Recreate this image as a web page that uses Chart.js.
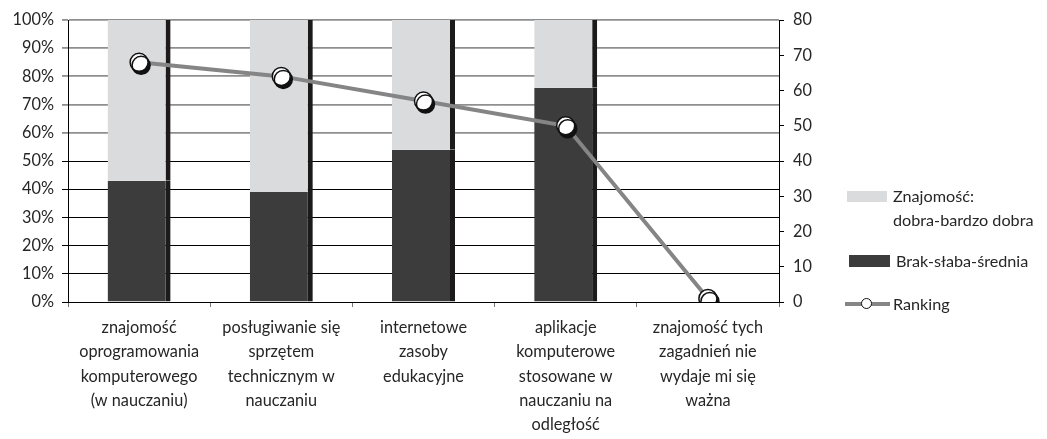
<!DOCTYPE html>
<html lang="pl">
<head>
<meta charset="UTF-8">
<title>Ranking znajomości zagadnień</title>
<script src="https://cdn.jsdelivr.net/npm/chart.js"></script>
<style>
body { margin: 0; background: #fff; font-family: Lato, "Open Sans", sans-serif; color: #262626; }
#wrap { position: relative; width: 1047px; height: 439px; }
.lg { position: absolute; font-size: 16.2px; line-height: 24px; white-space: nowrap; }
.sw { position: absolute; }
</style>
</head>
<body>
<div id="wrap">
  <canvas id="rankChart"></canvas>
  <div class="sw" style="left:847px; top:191px; width:40px; height:11px; background:#dadbdd;"></div>
  <div class="lg" style="left:893px; top:184px;">Znajomość:<br>dobra-bardzo dobra</div>
  <div class="sw" style="left:849px; top:255px; width:41px; height:12px; background:#3c3c3c;"></div>
  <div class="lg" style="left:896px; top:249px;">Brak-słaba-średnia</div>
  <div class="sw" style="left:845px; top:302px; width:45px; height:4px; background:#858585;"></div>
  <div class="sw" style="left:861px; top:298px; width:9px; height:9px; border:1.5px solid #111; border-radius:50%; background:#fff;"></div>
  <div class="lg" style="left:893px; top:292px;">Ranking</div>
</div>

<script>
const categories = [
  ['znajomość', 'oprogramowania', 'komputerowego', '(w nauczaniu)'],
  ['posługiwanie się', 'sprzętem', 'technicznym w', 'nauczaniu'],
  ['internetowe', 'zasoby', 'edukacyjne'],
  ['aplikacje', 'komputerowe', 'stosowane w', 'nauczaniu na', 'odległość'],
  ['znajomość tych', 'zagadnień nie', 'wydaje mi się', 'ważna']
];
const weakValues = [43, 39, 54, 76, null];   // Brak-słaba-średnia (%)
const goodValues = [57, 61, 46, 24, null];   // Znajomość: dobra-bardzo dobra (%)
const rankingValues = [68, 64, 57, 50, 1];
const percentTicks = [0, 10, 20, 30, 40, 50, 60, 70, 80, 90, 100];

const FONT = { family: 'Lato, "Open Sans", sans-serif', size: 16.3 };

// shadow under the ranking markers
const markerShadow = {
  id: 'markerShadow',
  beforeDatasetDraw(chart, args) {
    if (args.index !== 3) return;
    const ctx = chart.ctx;
    ctx.save();
    ctx.shadowColor = '#111';
    ctx.shadowOffsetX = 2;
    ctx.shadowOffsetY = 3;
    ctx.shadowBlur = 0;
  },
  afterDatasetDraw(chart, args) {
    if (args.index !== 3) return;
    chart.ctx.restore();
  }
};

const barBorder = { top: 0, right: 5, bottom: 0, left: 0 };

new Chart(document.getElementById('rankChart'), {
  type: 'bar',
  data: {
    labels: categories,
    datasets: [
      {
        label: 'Brak-słaba-średnia',
        data: weakValues,
        backgroundColor: '#3c3c3c',
        borderColor: '#1c1a1a',
        borderWidth: barBorder,
        borderSkipped: false,
        yAxisID: 'y',
        order: 2
      },
      {
        label: 'Znajomość: dobra-bardzo dobra',
        data: goodValues,
        backgroundColor: '#dadbdd',
        borderColor: '#1c1a1a',
        borderWidth: barBorder,
        borderSkipped: false,
        yAxisID: 'y',
        order: 2
      },
      {
        type: 'line',
        label: 'Ranking',
        data: rankingValues,
        yAxisID: 'y1',
        borderColor: '#858585',
        borderWidth: 4,
        pointRadius: 0,
        tension: 0,
        order: 1
      },
      {
        type: 'line',
        label: 'Ranking (punkty)',
        data: rankingValues,
        yAxisID: 'y1',
        showLine: false,
        pointRadius: 9,
        pointBackgroundColor: '#ffffff',
        pointBorderColor: '#111',
        pointBorderWidth: 1.5,
        order: 0
      }
    ]
  },
  options: {
    responsive: true,
    maintainAspectRatio: false,
    animation: false,
    layout: { padding: { top: 20, left: 0, right: 0, bottom: 0 } },
    plugins: {
      legend: { display: false },
      tooltip: { enabled: false }
    },
    datasets: {
      bar: { categoryPercentage: 1, barPercentage: 0.443 }
    },
    scales: {
      x: {
        stacked: true,
        offset: true,
        grid: { offset: true, drawOnChartArea: false, tickLength: 5, tickColor: '#777' },
        border: { color: '#000', width: 1 },
        ticks: {
          color: '#262626',
          font: Object.assign({ lineHeight: 1.48 }, FONT),
          padding: 9,
          maxRotation: 0,
          autoSkip: false
        },
        afterFit(scale) { scale.height = 137; }
      },
      y: {
        stacked: true,
        min: 0,
        max: 100,
        position: 'left',
        afterBuildTicks(scale) { scale.ticks = percentTicks.map(v => ({ value: v })); },
        grid: {
          color: c => (c.tick && c.tick.value >= 60 ? '#8f8f8f' : '#000'),
          lineWidth: c => (c.tick && c.tick.value >= 60 ? 1.8 : 1),
          tickLength: 6,
          tickColor: c => (c.tick && c.tick.value >= 60 ? '#8f8f8f' : '#000')
        },
        border: { color: '#000', width: 1 },
        ticks: {
          color: '#262626',
          font: FONT,
          padding: 8,
          callback: v => v + '%'
        },
        afterFit(scale) { scale.width = 68; }
      },
      y1: {
        min: 0,
        max: 80,
        position: 'right',
        grid: { drawOnChartArea: false, tickLength: 5, tickColor: '#000' },
        border: { color: '#000', width: 1 },
        ticks: { stepSize: 10, color: '#262626', font: FONT, padding: 9 },
        afterFit(scale) { scale.width = 268; }
      }
    }
  },
  plugins: [markerShadow]
});
</script>
</body>
</html>
